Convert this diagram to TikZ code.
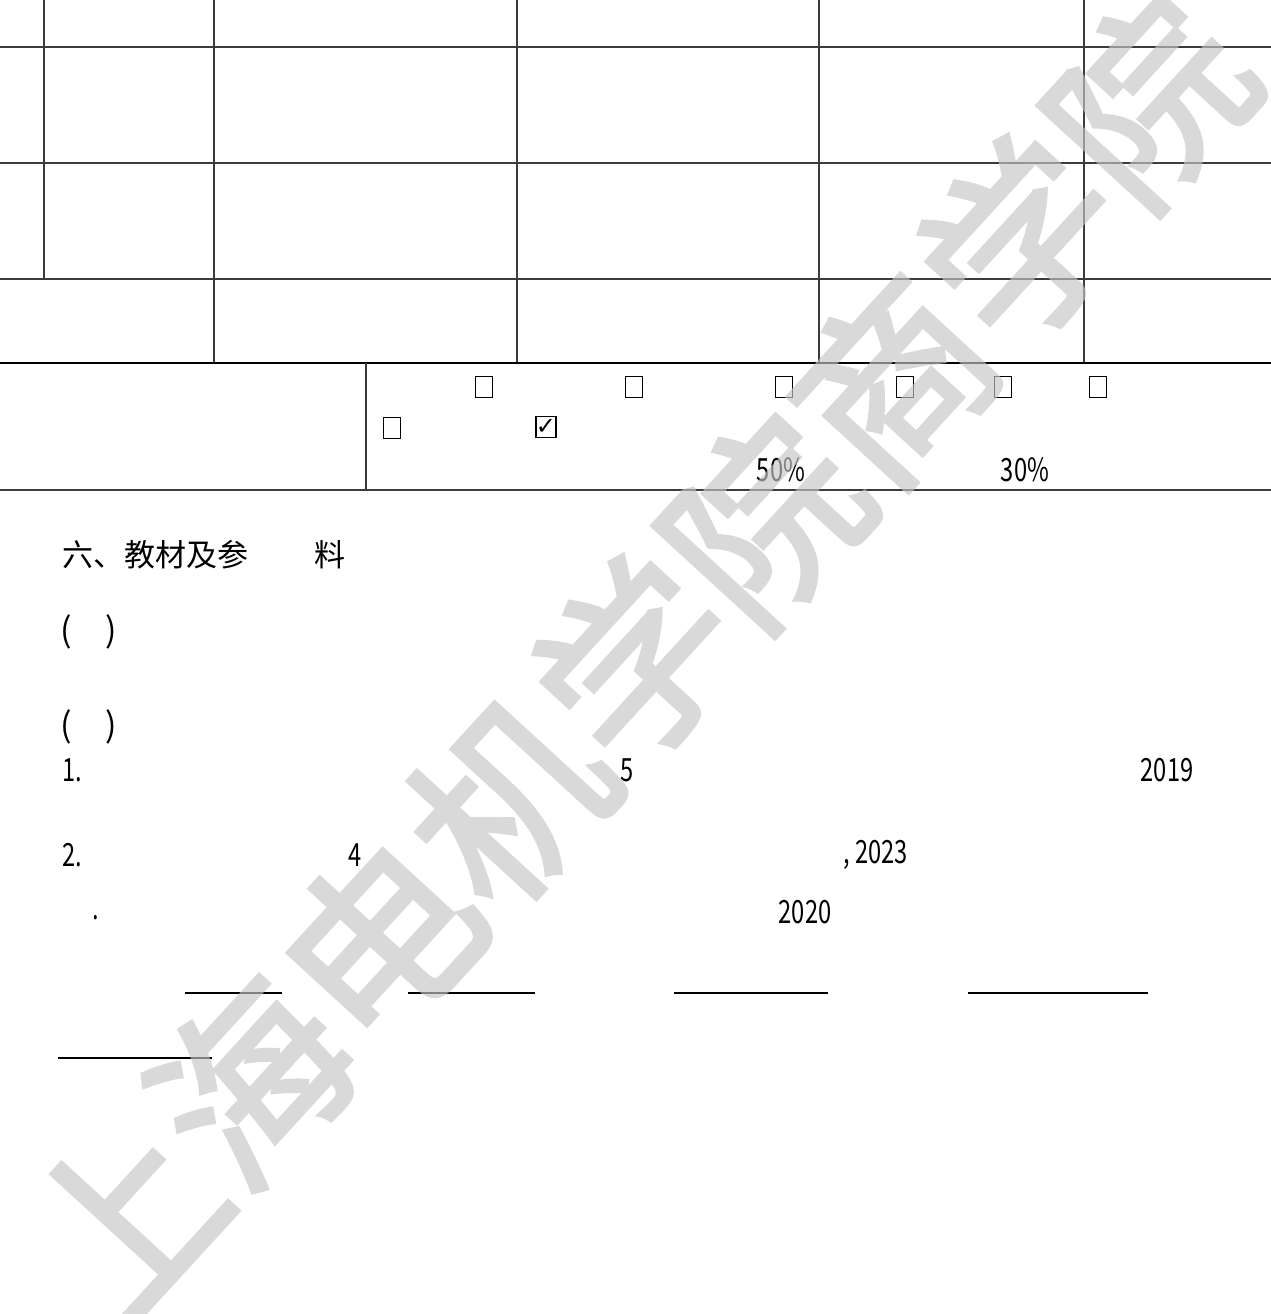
\documentclass[tikz,border=0pt]{standalone}
\usepackage{fontspec}
\setmainfont{Noto Sans CJK SC}
\newfontfamily\cjk{Noto Sans CJK SC}
\newfontfamily\numfont[FakeStretch=0.74]{Noto Sans CJK SC}
\newfontfamily\wmfont[FakeBold=2.2]{Noto Sans CJK SC}
\newfontfamily\symfont{DejaVu Sans}
\definecolor{wmgray}{RGB}{197,197,197}
\definecolor{rulegray}{RGB}{60,60,60}
\tikzset{
  tabline/.style={draw=rulegray, line width=1pt},
  heading/.style={font=\cjk\fontsize{15.5}{17}\selectfont, inner sep=0pt},
  num/.style={font=\numfont\fontsize{16}{18}\selectfont, inner sep=0pt},
  cbox/.style={draw, line width=0.6pt, minimum width=8.5pt, minimum height=10.5pt, inner sep=0pt},
  blank/.style={draw=black, line width=0.8pt},
  wmark/.style={text=wmgray, inner sep=0pt,
    font=\wmfont\fontsize{95}{95}\selectfont}
}
\begin{document}
\begin{tikzpicture}[x=0.5pt,y=-0.5pt]
	\useasboundingbox (0,0) rectangle (1271,1314);

	% upper table
	\draw[tabline] (0,47) -- (1271,47);
	\draw[tabline] (0,163) -- (1271,163);
	\draw[tabline] (0,279) -- (1271,279);
	\draw[tabline] (44,0) -- (44,279);
	\foreach \x in {214,517,819,1084}
		\draw[tabline] (\x,0) -- (\x,363);

	% lower table
	\draw[draw=black, line width=1pt] (0,363) -- (1271,363);
	\draw[tabline] (366,363) -- (366,490);
	\draw[tabline] (0,490) -- (1271,490);

	% check boxes
	\node[cbox] (cb1) at (484,387) {};
	\node[cbox] (cb2) at (634,387) {};
	\node[cbox] (cb3) at (784,387) {};
	\node[cbox] (cb4) at (905,387) {};
	\node[cbox] (cb5) at (1003,387) {};
	\node[cbox] (cb6) at (1098,387) {};
	\node[cbox] (cb7) at (392,428) {};
	\node[cbox, font=\symfont\fontsize{12}{12}\selectfont] (cb8) at (546,427) {✓};

	\node[num] (pctA) at (781,470) {50\%};
	\node[num] (pctB) at (1025,470) {30\%};

	% section six
	\node[heading, anchor=west] (sec) at (62,555) {六、教材及参};
	\node[heading] (secB) at (330,555) {料};
	\node[heading, anchor=west, font=\cjk\fontsize{17}{19}\selectfont] (parA) at (60,632) {(\hspace{1em})};
	\node[heading, anchor=west, font=\cjk\fontsize{17}{19}\selectfont] (parB) at (60,727) {(\hspace{1em})};

	\node[num, anchor=west] (refA) at (62,770) {1.};
	\node[num] (refAed) at (627,770) {5};
	\node[num] (refAyr) at (1167,770) {2019};
	\node[num, anchor=west] (refB) at (62,855) {2.};
	\node[num] (refBed) at (355,855) {4};
	\node[num, anchor=west] (refByr) at (843,855) {, 2023};
	\node[num] (refC) at (96,918) {.};
	\node[num] (refCyr) at (805,912) {2020};

	% blanks
	\draw[blank] (185,993) -- (282,993);
	\draw[blank] (408,993) -- (535,993);
	\draw[blank] (674,993) -- (828,993);
	\draw[blank] (968,993) -- (1148,993);
	\draw[blank] (58,1058) -- (212,1058);

	% watermark
	\begin{scope}[transparency group, opacity=0.65]
		\node[wmark, rotate=47.5] (wm) at (636,660) {上海电机学院商学院};
	\end{scope}
\end{tikzpicture}
\end{document}
